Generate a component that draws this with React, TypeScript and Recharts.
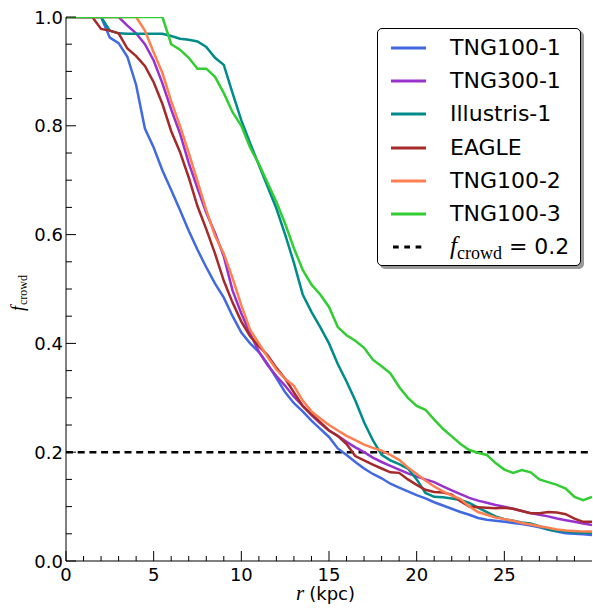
import React from 'react';
import { LineChart, Line, XAxis, YAxis, ReferenceLine, Legend } from 'recharts';

// radius grid (kpc)
const radius = [
  0, 0.5, 1, 1.5, 2, 2.5, 3, 3.5, 4, 4.5, 5, 5.5, 6, 6.5, 7, 7.5, 8, 8.5, 9, 9.5, 10,
  10.5, 11, 11.5, 12, 12.5, 13, 13.5, 14, 14.5, 15, 15.5, 16, 16.5, 17, 17.5, 18, 18.5, 19, 19.5, 20,
  20.5, 21, 21.5, 22, 22.5, 23, 23.5, 24, 24.5, 25, 25.5, 26, 26.5, 27, 27.5, 28, 28.5, 29, 29.5, 30,
];

const tng100_1 = [
  1, 1, 1, 1, 1, 0.962, 0.952, 0.927, 0.875, 0.795, 0.76, 0.718, 0.682, 0.645, 0.607, 0.572, 0.54, 0.51, 0.484, 0.45, 0.42,
  0.4, 0.384, 0.362, 0.336, 0.31, 0.29, 0.275, 0.258, 0.243, 0.228, 0.207, 0.195, 0.182, 0.17, 0.16, 0.152, 0.142, 0.135, 0.128, 0.121,
  0.115, 0.108, 0.102, 0.096, 0.09, 0.085, 0.079, 0.076, 0.074, 0.072, 0.07, 0.068, 0.065, 0.062, 0.058, 0.054, 0.051, 0.05, 0.049, 0.048,
];
const tng300_1 = [
  1, 1, 1, 1, 1, 1, 1, 0.984, 0.97, 0.95, 0.92, 0.878, 0.83, 0.786, 0.732, 0.685, 0.64, 0.603, 0.56, 0.497, 0.455,
  0.418, 0.385, 0.36, 0.34, 0.322, 0.302, 0.285, 0.268, 0.253, 0.24, 0.23, 0.219, 0.209, 0.2, 0.19, 0.182, 0.175, 0.168, 0.161, 0.155,
  0.15, 0.145, 0.137, 0.13, 0.123, 0.116, 0.111, 0.107, 0.103, 0.1, 0.096, 0.092, 0.088, 0.085, 0.082, 0.078, 0.075, 0.072, 0.069, 0.066,
];
const illustris1 = [
  1, 1, 1, 1, 1, 0.975, 0.97, 0.969, 0.969, 0.969, 0.969, 0.969, 0.965, 0.96, 0.958, 0.955, 0.945, 0.925, 0.912, 0.86, 0.81,
  0.768, 0.728, 0.688, 0.648, 0.6, 0.548, 0.49, 0.458, 0.43, 0.4, 0.362, 0.33, 0.295, 0.255, 0.222, 0.195, 0.185, 0.178, 0.17, 0.15,
  0.125, 0.118, 0.117, 0.115, 0.112, 0.107, 0.098, 0.09, 0.082, 0.077, 0.074, 0.071, 0.069, 0.064, 0.058, 0.055, 0.054, 0.053, 0.052, 0.052,
];
const eagle = [
  1, 1, 1, 1, 0.978, 0.975, 0.97, 0.942, 0.928, 0.91, 0.88, 0.84, 0.79, 0.752, 0.705, 0.652, 0.61, 0.565, 0.515, 0.475, 0.44,
  0.413, 0.395, 0.378, 0.355, 0.335, 0.31, 0.285, 0.27, 0.255, 0.24, 0.23, 0.215, 0.193, 0.185, 0.177, 0.17, 0.163, 0.162, 0.15, 0.14,
  0.131, 0.127, 0.126, 0.122, 0.11, 0.1, 0.099, 0.098, 0.097, 0.098, 0.096, 0.092, 0.088, 0.088, 0.09, 0.089, 0.086, 0.078, 0.072, 0.072,
];
const tng100_2 = [
  1, 1, 1, 1, 1, 1, 1, 1, 1, 0.975, 0.935, 0.897, 0.845, 0.8, 0.75, 0.698, 0.645, 0.598, 0.565, 0.52, 0.47,
  0.425, 0.4, 0.375, 0.352, 0.335, 0.322, 0.295, 0.275, 0.262, 0.25, 0.24, 0.23, 0.222, 0.214, 0.208, 0.203, 0.195, 0.186, 0.172, 0.16,
  0.148, 0.137, 0.128, 0.12, 0.114, 0.1, 0.09, 0.085, 0.08, 0.077, 0.074, 0.07, 0.067, 0.064, 0.061, 0.058, 0.056, 0.055, 0.054, 0.054,
];
const tng100_3 = [
  1, 1, 1, 1, 1, 1, 1, 1, 1, 1, 1, 1, 0.95, 0.94, 0.925, 0.905, 0.905, 0.89, 0.86, 0.825, 0.8,
  0.76, 0.73, 0.695, 0.66, 0.62, 0.575, 0.535, 0.508, 0.49, 0.467, 0.43, 0.415, 0.405, 0.392, 0.37, 0.358, 0.345, 0.32, 0.3, 0.285,
  0.278, 0.26, 0.243, 0.229, 0.215, 0.204, 0.199, 0.195, 0.18, 0.168, 0.162, 0.167, 0.163, 0.15, 0.145, 0.14, 0.133, 0.118, 0.112, 0.118,
];

const xTicks = [0, 1, 2, 3, 4, 5, 6, 7, 8, 9, 10, 11, 12, 13, 14, 15, 16, 17, 18, 19, 20, 21, 22, 23, 24, 25, 26, 27, 28, 29];
const yTicks = [0, 0.05, 0.1, 0.15, 0.2, 0.25, 0.3, 0.35, 0.4, 0.45, 0.5, 0.55, 0.6, 0.65, 0.7, 0.75, 0.8, 0.85, 0.9, 0.95, 1.0];
const threshold = 0.2;

const series = [
  { key: 'tng100_1', name: 'TNG100-1', color: '#4169e1', values: tng100_1 },
  { key: 'tng300_1', name: 'TNG300-1', color: '#9932cc', values: tng300_1 },
  { key: 'illustris1', name: 'Illustris-1', color: '#008b8b', values: illustris1 },
  { key: 'eagle', name: 'EAGLE', color: '#a52a2a', values: eagle },
  { key: 'tng100_2', name: 'TNG100-2', color: '#ff7f50', values: tng100_2 },
  { key: 'tng100_3', name: 'TNG100-3', color: '#32cd32', values: tng100_3 },
];

const chartData = radius.map((r, i) => {
  const row: Record<string, number> = { r };
  series.forEach(s => { row[s.key] = s.values[i]; });
  return row;
});

const SANS = '"DejaVu Sans", sans-serif';
const SERIF = '"Liberation Serif", "DejaVu Serif", serif';

const isMajorX = (v: number) => v % 5 === 0;
const isMajorY = (v: number) => Math.round(v * 100) % 20 === 0;

// ticks point inward, like matplotlib classic
function BottomTick({ x, y, payload }: any) {
  const major = isMajorX(payload.value);
  return (
    <g>
      <line x1={x} x2={x} y1={y} y2={y - (major ? 10 : 5)} stroke="#000" strokeWidth={1} />
      {major && (
        <text x={x} y={y + 20} textAnchor="middle" fontFamily={SANS} fontSize={18} fill="#000">{payload.value}</text>
      )}
    </g>
  );
}

function TopTick({ x, y, payload }: any) {
  const major = isMajorX(payload.value);
  return <line x1={x} x2={x} y1={y} y2={y + (major ? 10 : 5)} stroke="#000" strokeWidth={1} />;
}

function LeftTick({ x, y, payload }: any) {
  const major = isMajorY(payload.value);
  return (
    <g>
      <line x1={x} x2={x + (major ? 10 : 6)} y1={y} y2={y} stroke="#000" strokeWidth={1} />
      {major && (
        <text x={x - 3} y={y + 6.5} textAnchor="end" fontFamily={SANS} fontSize={18} fill="#000">
          {payload.value.toFixed(1)}
        </text>
      )}
    </g>
  );
}

function RightTick({ x, y, payload }: any) {
  const major = isMajorY(payload.value);
  return <line x1={x} x2={x - (major ? 10 : 6)} y1={y} y2={y} stroke="#000" strokeWidth={1} />;
}

function LegendBox() {
  return (
    <div
      style={{
        width: 204,
        height: 238,
        border: '1px solid #000',
        borderRadius: 5,
        background: '#fff',
        boxShadow: '3px 3px 0 #999',
        boxSizing: 'border-box',
        paddingTop: 2,
        fontFamily: SANS,
        fontSize: 22,
        color: '#000',
      }}
    >
      {series.map(s => (
        <div key={s.key} style={{ height: 33.3, display: 'flex', alignItems: 'center' }}>
          <svg width={48} height={6} style={{ display: 'block' }}>
            <line x1={13} x2={48} y1={3} y2={3} stroke={s.color} strokeWidth={3} />
          </svg>
          <span style={{ marginLeft: 24, lineHeight: '22px' }}>{s.name}</span>
        </div>
      ))}
      <div style={{ height: 33.3, display: 'flex', alignItems: 'center' }}>
        <svg width={48} height={6} style={{ display: 'block' }}>
          <line x1={15} x2={48} y1={3} y2={3} stroke="#000" strokeWidth={3} strokeDasharray="5.7 5.6" />
        </svg>
        <span style={{ marginLeft: 24, lineHeight: '22px', whiteSpace: 'nowrap' }}>
          <span style={{ fontFamily: SERIF, fontStyle: 'italic', fontSize: 25 }}>f</span>
          <span style={{ fontFamily: SERIF, fontSize: 18, position: 'relative', top: 5 }}>crowd</span>
          <span> = 0.2</span>
        </span>
      </div>
    </div>
  );
}

export default function App() {
  return (
    <div style={{ position: 'absolute', left: 0, top: 0, width: 593, height: 608, background: '#fff' }}>
      <LineChart width={593} height={608} data={chartData} margin={{ top: 17, right: 1, bottom: 0, left: 0 }}>
        <XAxis
          dataKey="r"
          type="number"
          domain={[0, 30]}
          ticks={xTicks}
          interval={0}
          allowDataOverflow
          height={47}
          tickSize={0}
          tickMargin={0}
          tick={<BottomTick />}
          stroke="#000"
          label={() => (
            <text x={296} y={600} fontSize={18} fill="#000">
              <tspan fontFamily={SERIF} fontStyle="italic" fontSize={21}>r</tspan>
              <tspan fontFamily={SANS} dx={5}>(kpc)</tspan>
            </text>
          )}
        />
        <XAxis
          xAxisId="top"
          orientation="top"
          dataKey="r"
          type="number"
          domain={[0, 30]}
          ticks={xTicks}
          interval={0}
          height={0}
          tickSize={0}
          tickMargin={0}
          tick={<TopTick />}
          stroke="#000"
        />
        <YAxis
          type="number"
          domain={[0, 1]}
          ticks={yTicks}
          interval={0}
          allowDataOverflow
          width={66}
          tickSize={0}
          tickMargin={0}
          tick={<LeftTick />}
          stroke="#000"
          label={() => (
            <text transform="translate(24, 311) rotate(-90)" fill="#000" fontFamily={SERIF}>
              <tspan fontStyle="italic" fontSize={18}>f</tspan>
              <tspan fontSize={12} dx={1} dy={3}>crowd</tspan>
            </text>
          )}
        />
        <YAxis
          yAxisId="right"
          orientation="right"
          type="number"
          domain={[0, 1]}
          ticks={yTicks}
          interval={0}
          width={0}
          tickSize={0}
          tickMargin={0}
          tick={<RightTick />}
          stroke="#000"
        />
        <ReferenceLine y={threshold} stroke="#000" strokeWidth={2.5} strokeDasharray="7 4.7" />
        {series.map(s => (
          <Line
            key={s.key}
            type="linear"
            dataKey={s.key}
            name={s.name}
            stroke={s.color}
            strokeWidth={2.5}
            dot={false}
            activeDot={false}
            isAnimationActive={false}
          />
        ))}
        <Legend
          layout="horizontal"
          verticalAlign="middle"
          align="center"
          wrapperStyle={{ left: 377, top: 28, width: 206, height: 240 }}
          content={() => <LegendBox />}
        />
      </LineChart>
    </div>
  );
}
